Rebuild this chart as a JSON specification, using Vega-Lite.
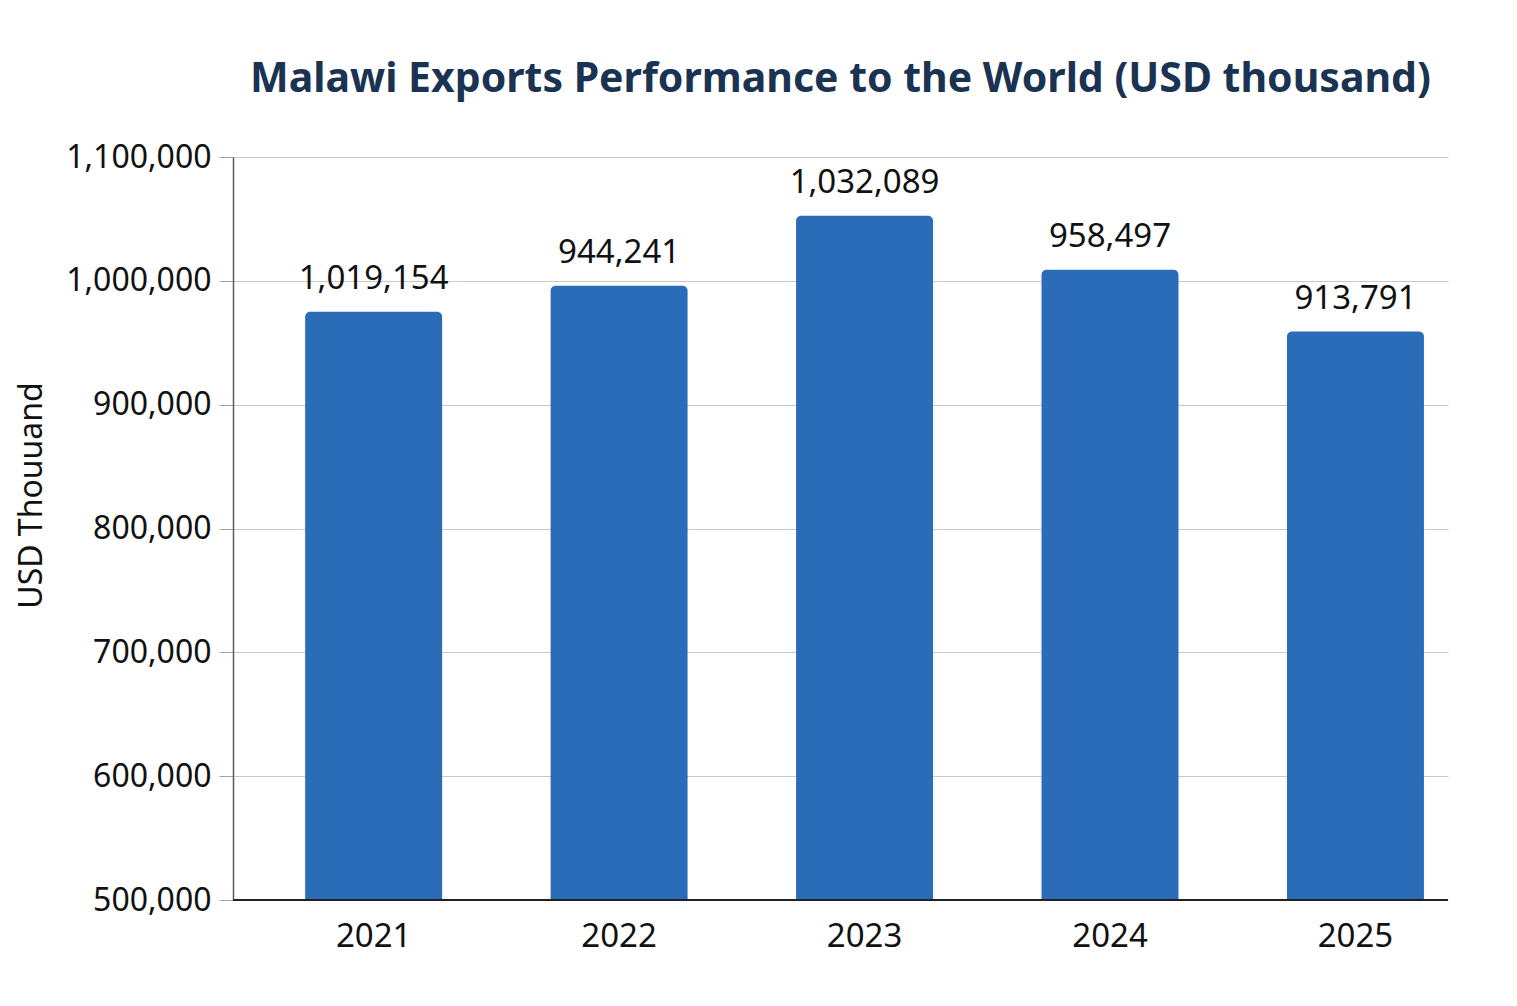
{
  "$schema": "https://vega.github.io/schema/vega-lite/v6.json",
  "width": 1215,
  "height": 743,
  "autosize": {"type": "none"},
  "padding": {"left": 233, "top": 157, "right": 69, "bottom": 106},
  "background": "white",
  "title": {
    "text": "Malawi Exports Performance to the World (USD thousand)",
    "anchor": "middle",
    "frame": "group",
    "font": "Noto Sans",
    "fontSize": 41,
    "fontWeight": "bold",
    "color": "#1b3352",
    "offset": 40
  },
  "data": {
    "values": [
      {"year": "2021", "bar": 975000, "label": "1,019,154"},
      {"year": "2022", "bar": 996000, "label": "944,241"},
      {"year": "2023", "bar": 1052500, "label": "1,032,089"},
      {"year": "2024", "bar": 1009000, "label": "958,497"},
      {"year": "2025", "bar": 959000, "label": "913,791"}
    ]
  },
  "encoding": {
    "x": {
      "field": "year",
      "type": "nominal",
      "sort": null,
      "scale": {"paddingInner": 0.442, "paddingOuter": 0.196, "align": 0.75},
      "axis": {
        "title": null,
        "labelAngle": 0,
        "labelFont": "Noto Sans",
        "labelFontSize": 33,
        "labelColor": "#111111",
        "labelPadding": 20,
        "ticks": false,
        "domain": false
      }
    }
  },
  "layer": [
    {
      "mark": {
        "type": "bar",
        "color": "#2b6cb8",
        "cornerRadiusTopLeft": 5,
        "cornerRadiusTopRight": 5
      },
      "encoding": {
        "y": {
          "field": "bar",
          "type": "quantitative",
          "scale": {"domain": [500000, 1100000], "zero": false, "nice": false},
          "axis": {
            "grid": true,
            "title": "USD Thouuand",
            "titleFont": "Noto Sans",
            "titleFontSize": 32,
            "titleFontWeight": "normal",
            "titleColor": "#111111",
            "titlePadding": 17,
            "titleY": 338,
            "values": [500000, 600000, 700000, 800000, 900000, 1000000, 1100000],
            "format": ",d",
            "labelFont": "Noto Sans",
            "labelFontSize": 32,
            "labelColor": "#111111",
            "labelPadding": 8,
            "tickSize": 14,
            "tickColor": "#a0a4a8",
            "domainColor": "#4d5e70",
            "domainWidth": 1.5,
            "gridColor": "#c8c8c8",
            "gridWidth": 1
          }
        },
        "y2": {"datum": 500000}
      }
    },
    {
      "mark": {"type": "rule", "color": "#222222", "strokeWidth": 1.5},
      "encoding": {
        "y": {"datum": 500000, "type": "quantitative"},
        "x": null
      }
    },
    {
      "mark": {
        "type": "text",
        "baseline": "bottom",
        "dy": -16,
        "font": "Noto Sans",
        "fontSize": 33,
        "color": "#111111"
      },
      "encoding": {
        "y": {"field": "bar", "type": "quantitative"},
        "text": {"field": "label", "type": "nominal"}
      }
    }
  ],
  "config": {"view": {"stroke": null}}
}
